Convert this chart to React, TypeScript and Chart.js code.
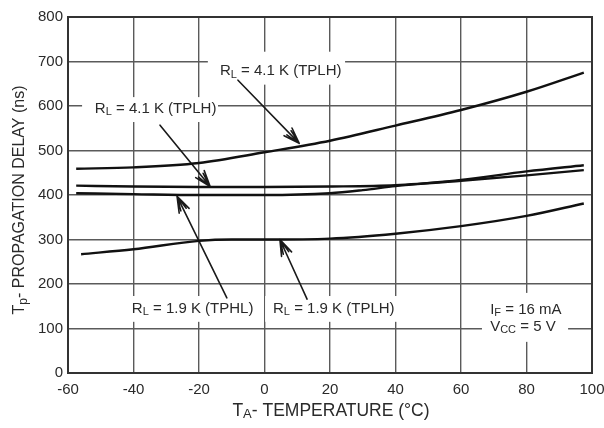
import { useEffect, useRef } from 'react';
import Chart from 'chart.js/auto';

const FONT = '"Liberation Sans", Arial, Helvetica, sans-serif';
const INK = '#2a2a2a';

// axis ticks
const xTickValues = [-60, -40, -20, 0, 20, 40, 60, 80, 100];
const yTickValues = [0, 100, 200, 300, 400, 500, 600, 700, 800];

// RL = 4.1 K, tPLH (upper curve)
const tempPlh41 = [-57.5, -40, -20, 0, 20, 40, 60, 80, 97.5];
const delayPlh41 = [459, 462, 472, 496, 522, 556, 591, 632, 675];

// RL = 4.1 K, tPLH (flat curve near 420)
const tempPlh41b = [-57.5, -40, -20, 0, 20, 40, 60, 80, 97.5];
const delayPlh41b = [421, 419, 418, 418, 419, 422, 432, 444, 456];

// RL = 1.9 K, tPHL
const tempPhl19 = [-57.5, -40, -20, 0, 20, 30, 40, 60, 80, 97.5];
const delayPhl19 = [404, 402, 400, 400, 404, 411, 420, 434, 453, 467];

// RL = 1.9 K, tPLH (lower curve)
const tempPlh19 = [-56, -40, -20, -10, 0, 20, 40, 60, 80, 97.5];
const delayPlh19 = [267, 278, 297, 300, 300, 302, 313, 330, 353, 381];

type Seg = { t: string; sub?: boolean };

// annotation labels, in data units: text left x / middle y, white box, arrow
const labels: {
  segs: Seg[][];
  x: number;
  y: number;
  box: [number, number, number, number];
  arrow?: [number, number, number, number];
}[] = [
  {
    segs: [[{ t: 'R' }, { t: 'L', sub: true }, { t: ' = 4.1 K (TPLH)' }]],
    x: -13.6,
    y: 678,
    box: [-17.3, 24.6, 722, 648],
    arrow: [-8.1, 658, 10.6, 516],
  },
  {
    segs: [[{ t: 'R' }, { t: 'L', sub: true }, { t: ' = 4.1 K (TPLH)' }]],
    x: -51.8,
    y: 593,
    box: [-55.7, -14.2, 620, 564],
    arrow: [-31.9, 557, -16.6, 419],
  },
  {
    segs: [[{ t: 'R' }, { t: 'L', sub: true }, { t: ' = 1.9 K (TPHL)' }]],
    x: -40.5,
    y: 144,
    box: [-42.6, -2.9, 173, 115],
    arrow: [-11.5, 169, -26.7, 397],
  },
  {
    segs: [[{ t: 'R' }, { t: 'L', sub: true }, { t: ' = 1.9 K (TPLH)' }]],
    x: 2.6,
    y: 144,
    box: [0.2, 41.4, 173, 115],
    arrow: [13, 166, 4.7, 300],
  },
  {
    segs: [
      [{ t: 'I' }, { t: 'F', sub: true }, { t: ' = 16 mA' }],
      [{ t: 'V' }, { t: 'CC', sub: true }, { t: ' = 5 V' }],
    ],
    x: 68.9,
    y: 141.6,
    box: [66.4, 92.7, 180, 70],
  },
];

function drawSegs(ctx: CanvasRenderingContext2D, segs: Seg[], x: number, y: number, size: number) {
  let cx = x;
  for (const s of segs) {
    const fs = s.sub ? Math.round(size * 0.72) : size;
    ctx.font = `${fs}px ${FONT}`;
    ctx.fillText(s.t, cx, s.sub ? y + size * 0.22 : y);
    cx += ctx.measureText(s.t).width;
  }
  return cx - x;
}

function segsWidth(ctx: CanvasRenderingContext2D, segs: Seg[], size: number) {
  let w = 0;
  for (const s of segs) {
    const fs = s.sub ? Math.round(size * 0.72) : size;
    ctx.font = `${fs}px ${FONT}`;
    w += ctx.measureText(s.t).width;
  }
  return w;
}

const decorations = {
  id: 'decorations',
  beforeDatasetsDraw(chart: any) {
    const { ctx, scales } = chart;
    const sx = scales.x;
    const sy = scales.y;
    ctx.save();
    for (const lb of labels) {
      const [x0, x1, y0, y1] = lb.box;
      ctx.fillStyle = '#ffffff';
      const px0 = sx.getPixelForValue(x0);
      const px1 = sx.getPixelForValue(x1);
      const py0 = sy.getPixelForValue(y0);
      const py1 = sy.getPixelForValue(y1);
      ctx.fillRect(px0, py0, px1 - px0, py1 - py0);
    }
    ctx.fillStyle = INK;
    ctx.textBaseline = 'middle';
    ctx.textAlign = 'left';
    for (const lb of labels) {
      const px = sx.getPixelForValue(lb.x);
      let py = sy.getPixelForValue(lb.y);
      for (const line of lb.segs) {
        drawSegs(ctx, line, px, py, 15);
        py += 17;
      }
    }
    ctx.strokeStyle = '#1a1a1a';
    ctx.lineWidth = 1.6;
    ctx.lineCap = 'round';
    for (const lb of labels) {
      if (!lb.arrow) continue;
      const [ax0, ay0, ax1, ay1] = lb.arrow;
      const x1 = sx.getPixelForValue(ax0);
      const y1 = sy.getPixelForValue(ay0);
      const x2 = sx.getPixelForValue(ax1);
      const y2 = sy.getPixelForValue(ay1);
      const ang = Math.atan2(y2 - y1, x2 - x1);
      ctx.beginPath();
      ctx.moveTo(x1, y1);
      ctx.lineTo(x2, y2);
      for (const d of [-0.33, 0.33]) {
        ctx.moveTo(x2, y2);
        ctx.lineTo(x2 - 17 * Math.cos(ang + d), y2 - 17 * Math.sin(ang + d));
      }
      for (const d of [-0.2, 0.2]) {
        ctx.moveTo(x2, y2);
        ctx.lineTo(x2 - 15 * Math.cos(ang + d), y2 - 15 * Math.sin(ang + d));
      }
      ctx.stroke();
    }
    ctx.restore();
  },
  afterDraw(chart: any) {
    const { ctx, chartArea } = chart;
    ctx.save();
    ctx.strokeStyle = '#333333';
    ctx.lineWidth = 2;
    ctx.strokeRect(chartArea.left, chartArea.top, chartArea.right - chartArea.left, chartArea.bottom - chartArea.top);

    ctx.fillStyle = INK;
    ctx.textBaseline = 'middle';
    ctx.textAlign = 'left';
    const xTitle: Seg[] = [{ t: 'T' }, { t: 'A', sub: true }, { t: '- TEMPERATURE (°C)' }];
    const wx = segsWidth(ctx, xTitle, 17.5);
    drawSegs(ctx, xTitle, 331 - wx / 2, 411, 17.5);

    const yTitle: Seg[] = [{ t: 'T' }, { t: 'p', sub: true }, { t: '- PROPAGATION DELAY (ns)' }];
    const wy = segsWidth(ctx, yTitle, 16);
    ctx.translate(20, 200);
    ctx.rotate(-Math.PI / 2);
    drawSegs(ctx, yTitle, -wy / 2, 0, 16);
    ctx.restore();
  },
};

function toPoints(xs: number[], ys: number[]) {
  return xs.map((x, i) => ({ x, y: ys[i] }));
}

function PropagationDelayChart() {
  const canvasRef = useRef<HTMLCanvasElement>(null);
  const chartRef = useRef<Chart | null>(null);

  useEffect(() => {
    if (!canvasRef.current) return;
    if (chartRef.current) chartRef.current.destroy();

    const line = (label: string, xs: number[], ys: number[]) => ({
      label,
      data: toPoints(xs, ys),
      borderColor: '#111111',
      borderWidth: 2.4,
      pointRadius: 0,
      fill: false,
      cubicInterpolationMode: 'monotone' as const,
    });

    chartRef.current = new Chart(canvasRef.current, {
      type: 'line',
      data: {
        datasets: [
          line('RL = 4.1 K (TPLH)', tempPlh41, delayPlh41),
          line('RL = 4.1 K (TPLH) b', tempPlh41b, delayPlh41b),
          line('RL = 1.9 K (TPHL)', tempPhl19, delayPhl19),
          line('RL = 1.9 K (TPLH)', tempPlh19, delayPlh19),
        ],
      },
      options: {
        responsive: false,
        animation: false,
        layout: { padding: { top: 17, right: 12, left: 0, bottom: 0 } },
        plugins: { legend: { display: false }, tooltip: { enabled: false } },
        scales: {
          x: {
            type: 'linear',
            min: -60,
            max: 100,
            afterBuildTicks: (scale: any) => {
              scale.ticks = xTickValues.map((v) => ({ value: v }));
            },
            afterFit: (scale: any) => {
              scale.height = 55;
              scale.paddingLeft = 0;
              scale.paddingRight = 0;
            },
            grid: { color: '#5a5a5a', lineWidth: 1.4, drawTicks: false },
            border: { display: false },
            ticks: {
              padding: 8,
              color: INK,
              font: { family: FONT, size: 15 },
              maxRotation: 0,
            },
          },
          y: {
            min: 0,
            max: 800,
            afterBuildTicks: (scale: any) => {
              scale.ticks = yTickValues.map((v) => ({ value: v }));
            },
            afterFit: (scale: any) => {
              scale.width = 68;
            },
            grid: { color: '#5a5a5a', lineWidth: 1.4, drawTicks: false },
            border: { display: false },
            ticks: {
              padding: 5,
              color: INK,
              font: { family: FONT, size: 15 },
            },
          },
        },
      },
      plugins: [decorations],
    });

    return () => {
      chartRef.current?.destroy();
      chartRef.current = null;
    };
  }, []);

  return (
    <div style={{ position: 'absolute', left: 0, top: 0, width: 604, height: 428, background: '#fff' }}>
      <canvas ref={canvasRef} width={604} height={428} />
    </div>
  );
}

export default function App() {
  return <PropagationDelayChart />;
}
